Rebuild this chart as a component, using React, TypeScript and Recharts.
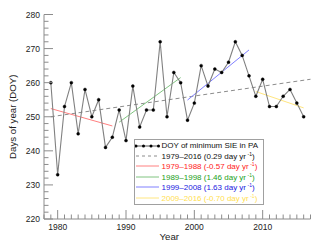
import { ComposedChart, Line, XAxis, YAxis, Legend } from 'recharts';

// DOY of minimum sea ice extent, one value per year
const years = [
  1979, 1980, 1981, 1982, 1983, 1984, 1985, 1986, 1987, 1988,
  1989, 1990, 1991, 1992, 1993, 1994, 1995, 1996, 1997, 1998,
  1999, 2000, 2001, 2002, 2003, 2004, 2005, 2006, 2007, 2008,
  2009, 2010, 2011, 2012, 2013, 2014, 2015, 2016,
];
const doyValues = [
  260, 233, 253, 260, 245, 258, 250, 255, 241, 244,
  252, 243, 259, 247, 252, 252, 272, 250, 263, 260,
  249, 254, 265, 259, 264, 263, 266, 272, 268, 262,
  256, 261, 253, 253, 256, 258, 254, 250,
];

// fitted trend lines: start / end year and value
const trendPeriods = ['1979–2016', '1979–1988', '1989–1998', '1999–2008', '2009–2016'];
const trendRates = ['0.29', '-0.57', '1.46', '1.63', '-0.70'];
const trendStartYear = [1979, 1979, 1989, 1999, 2009];
const trendEndYear = [2017, 1988, 1998, 2008, 2016];
const trendStartDoy = [250.0, 252.4, 248.4, 254.9, 257.4];
const trendEndDoy = [261.0, 247.3, 261.5, 269.6, 252.6];

const xMajorTicks = [1980, 1990, 2000, 2010];
const yMajorTicks = [220, 230, 240, 250, 260, 270, 280];

const lineColors = ['#8c8c8c', '#ff8080', '#80c480', '#8080ff', '#ffe680'];
const textColors = ['#111111', '#ff1a1a', '#22a022', '#2020e0', '#ffe050'];

const AXIS = '#8c8c8c';
const FONT = '"Liberation Sans", Arial, sans-serif';

const xTicks = Array.from({ length: 40 }, (_, i) => 1978 + i);
const yTicks = Array.from({ length: 31 }, (_, i) => 220 + i * 2);

const chartData = years.map((year, i) => ({ year, doy: doyValues[i] }));
const trendData = trendPeriods.map((_, i) => [
  { year: trendStartYear[i], fit: trendStartDoy[i] },
  { year: trendEndYear[i], fit: trendEndDoy[i] },
]);

const isMajorX = (v: number) => xMajorTicks.includes(v);
const isMajorY = (v: number) => yMajorTicks.includes(v);

const BottomTick = (props: any) => {
  const { x, y, payload } = props;
  const major = isMajorX(payload.value);
  return (
    <g>
      <line x1={x} x2={x} y1={y} y2={y - (major ? 9 : 4.5)} stroke={AXIS} />
      {major && (
        <text x={x} y={y + 11} textAnchor="middle" fontSize={8.5} fill="#222" fontFamily={FONT}>
          {payload.value}
        </text>
      )}
    </g>
  );
};

const TopTick = (props: any) => {
  const { x, y, payload } = props;
  const major = isMajorX(payload.value);
  return <line x1={x} x2={x} y1={y} y2={y + (major ? 9 : 4.5)} stroke={AXIS} />;
};

const LeftTick = (props: any) => {
  const { x, y, payload } = props;
  const major = isMajorY(payload.value);
  return (
    <g>
      <line x1={x} x2={x + (major ? 9 : 4.5)} y1={y} y2={y} stroke={AXIS} />
      {major && (
        <text x={x - 4} y={y + 3} textAnchor="end" fontSize={8.5} fill="#222" fontFamily={FONT}>
          {payload.value}
        </text>
      )}
    </g>
  );
};

const RightTick = (props: any) => {
  const { x, y, payload } = props;
  const major = isMajorY(payload.value);
  return <line x1={x} x2={x - (major ? 9 : 4.5)} y1={y} y2={y} stroke={AXIS} />;
};

function LegendSample({ index }: { index: number }) {
  return (
    <svg width={25} height={10} style={{ display: 'block', flex: 'none' }}>
      {index === 0 ? (
        <>
          <line x1={1} x2={24} y1={5} y2={5} stroke="#555" strokeWidth={1} />
          {[1, 8.5, 16, 23.5].map((cx) => (
            <circle key={cx} cx={cx} cy={5} r={1.5} fill="#000" />
          ))}
        </>
      ) : (
        <line
          x1={1}
          x2={24}
          y1={5}
          y2={5}
          stroke={lineColors[index - 1]}
          strokeWidth={1}
          strokeDasharray={index === 1 ? '3 3' : undefined}
        />
      )}
    </svg>
  );
}

function LegendBox() {
  const rows = ['DOY of minimum SIE in PA', ...trendPeriods];
  return (
    <div
      style={{
        border: '1px solid #a0a0a0',
        background: '#fff',
        padding: '0.5px 6px 1px 0',
        fontFamily: FONT,
        fontSize: 8,
        width: 122,
      }}
    >
      {rows.map((label, i) => (
        <div key={i} style={{ display: 'flex', alignItems: 'center', height: 10.4, whiteSpace: 'nowrap' }}>
          <LegendSample index={i} />
          <span style={{ marginLeft: 1.5, color: i === 0 ? '#111' : textColors[i - 1] }}>
            {i === 0 ? (
              label
            ) : (
              <>
                {label} ({trendRates[i - 1]} day yr
                <sup style={{ fontSize: 5, marginLeft: 1.5, verticalAlign: 3 }}>-1</sup>)
              </>
            )}
          </span>
        </div>
      ))}
    </div>
  );
}

export default function App() {
  return (
    <div style={{ position: 'absolute', left: 0, top: 0 }}>
      <ComposedChart
        width={320}
        height={247}
        data={chartData}
        margin={{ top: 14.5, right: 9.5, left: 0, bottom: 0 }}
        style={{ fontFamily: FONT }}
      >
        <XAxis
          xAxisId="bottom"
          dataKey="year"
          type="number"
          domain={[1978, 2017]}
          ticks={xTicks}
          interval={0}
          tickSize={0}
          tickMargin={0}
          tickLine={false}
          tick={BottomTick}
          axisLine={{ stroke: AXIS }}
          height={28}
          label={{ value: 'Year', position: 'insideBottom', offset: 7, dx: -8, fontSize: 9.7, fill: '#222' }}
        />
        <XAxis
          xAxisId="top"
          orientation="top"
          dataKey="year"
          type="number"
          domain={[1978, 2017]}
          ticks={xTicks}
          interval={0}
          tickSize={0}
          tickMargin={0}
          tickLine={false}
          tick={TopTick}
          axisLine={{ stroke: AXIS }}
          height={0}
        />
        <YAxis
          yAxisId="left"
          type="number"
          domain={[220, 280]}
          ticks={yTicks}
          interval={0}
          tickSize={0}
          tickMargin={0}
          tickLine={false}
          tick={LeftTick}
          axisLine={{ stroke: AXIS }}
          width={44}
          label={{
            value: 'Days of year (DOY)',
            angle: -90,
            position: 'insideLeft',
            offset: 13,
            fontSize: 9.7,
            fill: '#222',
            style: { textAnchor: 'middle' },
          }}
        />
        <YAxis
          yAxisId="right"
          orientation="right"
          type="number"
          domain={[220, 280]}
          ticks={yTicks}
          interval={0}
          tickSize={0}
          tickMargin={0}
          tickLine={false}
          tick={RightTick}
          axisLine={{ stroke: AXIS }}
          width={0}
        />
        {trendData.map((d, i) => (
          <Line
            key={trendPeriods[i]}
            xAxisId="bottom"
            yAxisId="left"
            data={d}
            dataKey="fit"
            type="linear"
            stroke={lineColors[i]}
            strokeWidth={1}
            strokeDasharray={i === 0 ? '4 3' : undefined}
            dot={false}
            activeDot={false}
            legendType="none"
            isAnimationActive={false}
          />
        ))}
        <Line
          xAxisId="bottom"
          yAxisId="left"
          dataKey="doy"
          type="linear"
          stroke="#808080"
          strokeWidth={1.1}
          dot={{ r: 1.5, fill: '#000', stroke: '#000', strokeWidth: 0.4 }}
          activeDot={false}
          isAnimationActive={false}
        />
        <Legend
          layout="vertical"
          align="center"
          verticalAlign="middle"
          content={() => <LegendBox />}
          wrapperStyle={{ left: 134, top: 139, width: 'auto', height: 'auto' }}
        />
      </ComposedChart>
    </div>
  );
}
